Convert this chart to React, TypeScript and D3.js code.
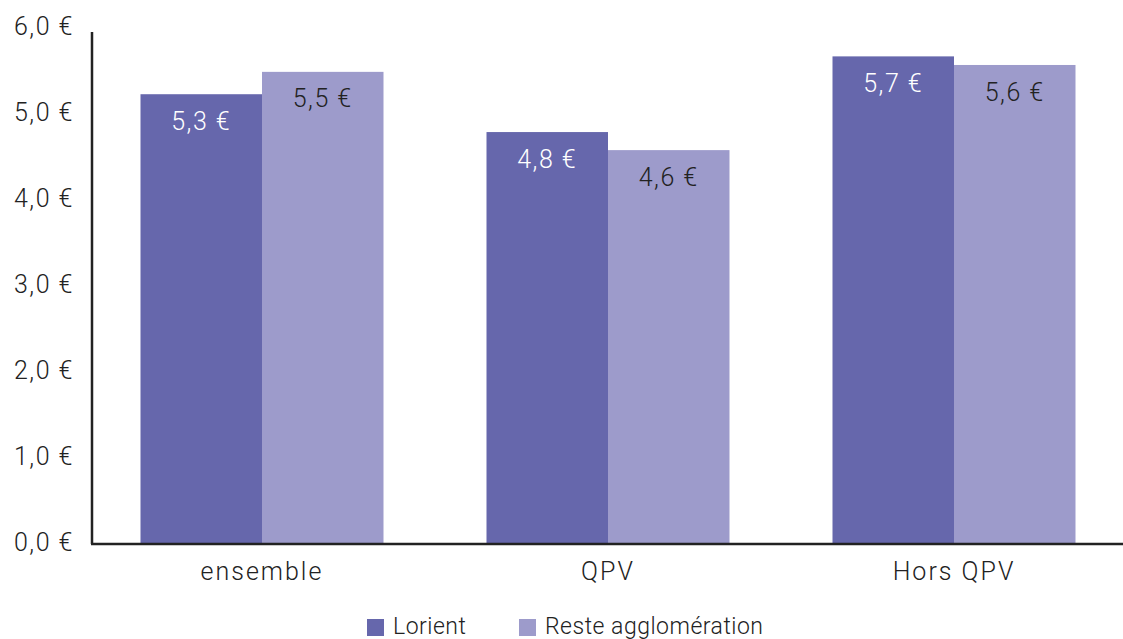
import React from "react";
import * as d3 from "d3";

const categories = ["ensemble", "QPV", "Hors QPV"];
const seriesNames = ["Lorient", "Reste agglomération"];
const lorient = [5.23, 4.79, 5.67];
const reste = [5.49, 4.58, 5.57];
const valueLabels = [["5,3 €", "4,8 €", "5,7 €"], ["5,5 €", "4,6 €", "5,6 €"]];
const yTicks = [0, 1, 2, 3, 4, 5, 6];
const yTickLabels = ["0,0 €", "1,0 €", "2,0 €", "3,0 €", "4,0 €", "5,0 €", "6,0 €"];
const colors = ["#6667ac", "#9d9bcb"];

const W = 1123, H = 639;
const FONT = "Roboto, 'Open Sans', sans-serif";

export default function App() {
  const xc = d3.scalePoint<string>().domain(categories).range([262, 954]);
  const groupW = 243;
  const x1 = d3.scaleBand<string>().domain(seriesNames).range([-groupW / 2, groupW / 2]).padding(0);
  const y = d3.scaleLinear().domain([0, 6]).range([544, 28]);
  const series = [lorient, reste];
  return (
    <svg width={W} height={H} style={{ position: "absolute", left: 0, top: 0, background: "#fff" }} fontFamily={FONT}>
      {series.map((vals, si) =>
        categories.map((c, ci) => {
          const bx = (xc(c) ?? 0) + (x1(seriesNames[si]) ?? 0);
          const by = y(vals[ci]);
          return (
            <g key={`${si}-${ci}`}>
              <rect x={bx} y={by} width={x1.bandwidth()} height={y(0) - by} fill={colors[si]} />
              <text x={bx + x1.bandwidth() / 2} y={by + 29} textAnchor="middle" dominantBaseline="middle"
                fontSize={25} fontWeight={300} letterSpacing={1.5} fill={si === 0 ? "#ffffff" : "#222"}>{valueLabels[si][ci]}</text>
            </g>
          );
        })
      )}
      <line x1={92} x2={92} y1={32} y2={544} stroke="#222" strokeWidth={2.5} />
      <line x1={91} x2={1123} y1={544} y2={544} stroke="#222" strokeWidth={2.5} />
      {yTicks.map((t, i) => (
        <text key={t} x={74} y={y(t)} textAnchor="end" dominantBaseline="middle" fontSize={25} fontWeight={300} letterSpacing={1.5} fill="#222">{yTickLabels[i]}</text>
      ))}
      {categories.map((c) => (
        <text key={c} x={xc(c) ?? 0} y={573} textAnchor="middle" dominantBaseline="middle"
          fontSize={25} fontWeight={300} letterSpacing={2} fill="#222">{c}</text>
      ))}
      <rect x={367} y={619} width={17} height={17} fill={colors[0]} />
      <text x={393} y={628} dominantBaseline="middle" fontSize={23} fontWeight={300} letterSpacing={0.5} fill="#222">{seriesNames[0]}</text>
      <rect x={519} y={619} width={17} height={17} fill={colors[1]} />
      <text x={545} y={628} dominantBaseline="middle" fontSize={23} fontWeight={300} letterSpacing={0.5} fill="#222">{seriesNames[1]}</text>
    </svg>
  );
}
